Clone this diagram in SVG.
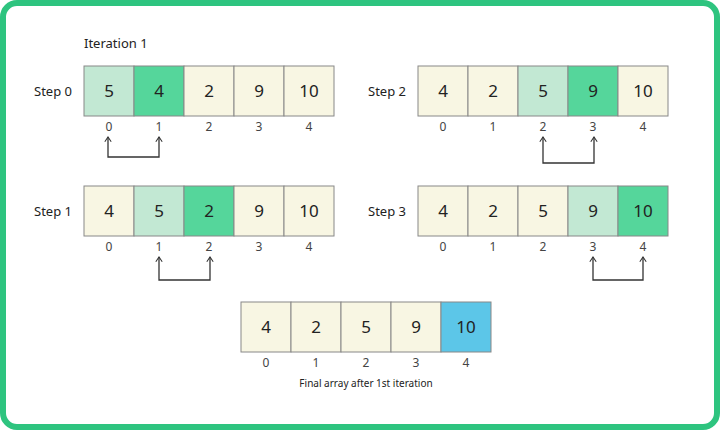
<svg xmlns="http://www.w3.org/2000/svg" width="720" height="430" viewBox="0 0 720 430">
<style>
text{font-family:"Noto Sans","Liberation Sans",sans-serif;fill:#222}
.v{font-size:17px;text-anchor:middle}
.i{font-size:12px;text-anchor:middle;fill:#444}
.l{font-size:13px}
.c{fill:#f8f6e3;stroke:#888;stroke-width:1}
.a{fill:#c2e8d3;stroke:#888}
.b{fill:#55d69b;stroke:#888}
.f{fill:#5cc6e8;stroke:#888}
.con{fill:none;stroke:#333;stroke-width:1.3}
</style>
<defs><marker id="ah" viewBox="0 0 10 10" refX="9" refY="5" markerWidth="8" markerHeight="8" orient="auto-start-reverse" markerUnits="userSpaceOnUse"><path d="M3,1 L9,5 L3,9" fill="none" stroke="#333" stroke-width="1.3"/></marker></defs>
<rect x="3" y="3" width="714" height="424" rx="14" fill="#fff" stroke="#2ec47f" stroke-width="6"/>
<text x="84" y="48" class="l">Iteration 1</text>
<g id="step0">
<text x="34" y="96" class="l">Step 0</text>
<rect x="84" y="66" width="50" height="50" class="a"/><rect x="134" y="66" width="50" height="50" class="b"/><rect x="184" y="66" width="50" height="50" class="c"/><rect x="234" y="66" width="50" height="50" class="c"/><rect x="284" y="66" width="50" height="50" class="c"/>
<text x="109" y="97" class="v">5</text><text x="159" y="97" class="v">4</text><text x="209" y="97" class="v">2</text><text x="259" y="97" class="v">9</text><text x="309" y="97" class="v">10</text>
<text x="109" y="131" class="i">0</text><text x="159" y="131" class="i">1</text><text x="209" y="131" class="i">2</text><text x="259" y="131" class="i">3</text><text x="309" y="131" class="i">4</text>
</g>
<g id="step2">
<text x="368" y="96" class="l">Step 2</text>
<rect x="418" y="66" width="50" height="50" class="c"/><rect x="468" y="66" width="50" height="50" class="c"/><rect x="518" y="66" width="50" height="50" class="a"/><rect x="568" y="66" width="50" height="50" class="b"/><rect x="618" y="66" width="50" height="50" class="c"/>
<text x="443" y="97" class="v">4</text><text x="493" y="97" class="v">2</text><text x="543" y="97" class="v">5</text><text x="593" y="97" class="v">9</text><text x="643" y="97" class="v">10</text>
<text x="443" y="131" class="i">0</text><text x="493" y="131" class="i">1</text><text x="543" y="131" class="i">2</text><text x="593" y="131" class="i">3</text><text x="643" y="131" class="i">4</text>
</g>
<g id="step1">
<text x="34" y="216" class="l">Step 1</text>
<rect x="84" y="186" width="50" height="50" class="c"/><rect x="134" y="186" width="50" height="50" class="a"/><rect x="184" y="186" width="50" height="50" class="b"/><rect x="234" y="186" width="50" height="50" class="c"/><rect x="284" y="186" width="50" height="50" class="c"/>
<text x="109" y="217" class="v">4</text><text x="159" y="217" class="v">5</text><text x="209" y="217" class="v">2</text><text x="259" y="217" class="v">9</text><text x="309" y="217" class="v">10</text>
<text x="109" y="251" class="i">0</text><text x="159" y="251" class="i">1</text><text x="209" y="251" class="i">2</text><text x="259" y="251" class="i">3</text><text x="309" y="251" class="i">4</text>
</g>
<g id="step3">
<text x="368" y="216" class="l">Step 3</text>
<rect x="418" y="186" width="50" height="50" class="c"/><rect x="468" y="186" width="50" height="50" class="c"/><rect x="518" y="186" width="50" height="50" class="c"/><rect x="568" y="186" width="50" height="50" class="a"/><rect x="618" y="186" width="50" height="50" class="b"/>
<text x="443" y="217" class="v">4</text><text x="493" y="217" class="v">2</text><text x="543" y="217" class="v">5</text><text x="593" y="217" class="v">9</text><text x="643" y="217" class="v">10</text>
<text x="443" y="251" class="i">0</text><text x="493" y="251" class="i">1</text><text x="543" y="251" class="i">2</text><text x="593" y="251" class="i">3</text><text x="643" y="251" class="i">4</text>
</g>
<g id="final">
<rect x="241" y="302" width="50" height="50" class="c"/><rect x="291" y="302" width="50" height="50" class="c"/><rect x="341" y="302" width="50" height="50" class="c"/><rect x="391" y="302" width="50" height="50" class="c"/><rect x="441" y="302" width="50" height="50" class="f"/>
<text x="266" y="333" class="v">4</text><text x="316" y="333" class="v">2</text><text x="366" y="333" class="v">5</text><text x="416" y="333" class="v">9</text><text x="466" y="333" class="v">10</text>
<text x="266" y="367" class="i">0</text><text x="316" y="367" class="i">1</text><text x="366" y="367" class="i">2</text><text x="416" y="367" class="i">3</text><text x="466" y="367" class="i">4</text>
<text x="366" y="387" font-size="10" text-anchor="middle">Final array after 1st iteration</text>
</g>
<g id="connectors">
<path class="con" d="M108,137 V157 H159 V137" marker-start="url(#ah)" marker-end="url(#ah)"/>
<path class="con" d="M543,137 V163 H594 V137" marker-start="url(#ah)" marker-end="url(#ah)"/>
<path class="con" d="M159,257 V280 H210 V257" marker-start="url(#ah)" marker-end="url(#ah)"/>
<path class="con" d="M593,257 V280 H643 V257" marker-start="url(#ah)" marker-end="url(#ah)"/>
</g>
</svg>
